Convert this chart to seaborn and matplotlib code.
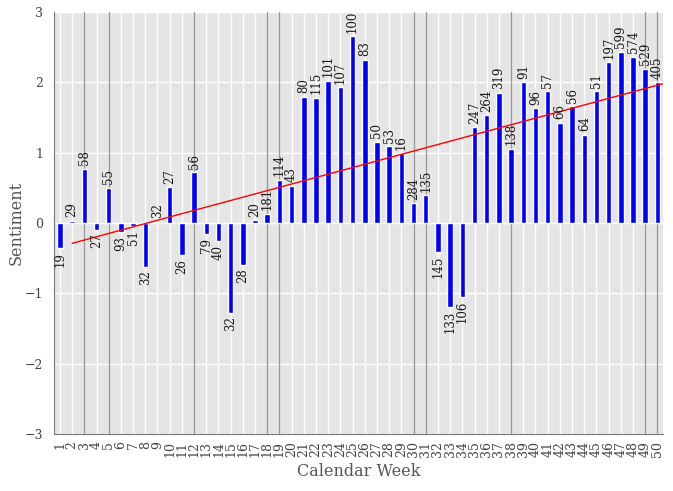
import numpy as np
import matplotlib
matplotlib.use('Agg')
import matplotlib.pyplot as plt
import pandas as pd
import seaborn as sns

weeks = list(range(1, 51))
sentiment = [-0.36, 0.03, 0.77, -0.10, 0.50, -0.13, -0.05, -0.62, 0.02, 0.51,
             -0.46, 0.72, -0.16, -0.26, -1.28, -0.60, 0.04, 0.13, 0.61, 0.53,
             1.79, 1.78, 2.02, 1.93, 2.65, 2.32, 1.15, 1.09, 0.99, 0.28,
             0.39, -0.41, -1.20, -1.05, 1.36, 1.53, 1.85, 1.05, 2.00, 1.63,
             1.87, 1.42, 1.66, 1.25, 1.87, 2.28, 2.43, 2.36, 2.19, 2.00]
counts = [19, 29, 58, 27, 55, 93, 51, 32, 32, 27,
          26, 56, 79, 40, 32, 28, 20, 181, 114, 43,
          80, 115, 101, 107, 100, 83, 50, 53, 16, 284,
          135, 145, 133, 106, 247, 264, 319, 138, 91, 96,
          57, 66, 56, 64, 51, 197, 599, 574, 529, 405]
marked_weeks = [3, 5, 12, 18, 19, 30, 31, 38, 49, 50]
trend_x = [2, 50.5]
trend_y = [-0.29, 1.98]

df = pd.DataFrame({'week': weeks, 'sentiment': sentiment, 'n': counts})

sns.set_style('darkgrid', {'axes.facecolor': '#E5E5E5', 'grid.color': 'white'})
plt.rcParams['font.family'] = ['DejaVu Serif']

fig = plt.figure(figsize=(6.73, 4.91), dpi=100)
ax = fig.add_axes([0.080, 0.116, 0.905, 0.860])

for w in marked_weeks:
    ax.axvline(w, color='#999999', lw=1.0, zorder=1)

sns.barplot(data=df, x='week', y='sentiment', native_scale=True, width=0.45,
            color='#0000FF', saturation=1, ax=ax, zorder=2)
ax.plot(trend_x, trend_y, color='red', lw=1.0, zorder=3)

for w, s, n in zip(weeks, sentiment, counts):
    if s >= 0:
        ax.text(w, s + 0.05, str(n), rotation=90, ha='center', va='bottom',
                fontsize=8.5, color='#1a1a1a')
    else:
        ax.text(w, s - 0.05, str(n), rotation=90, ha='center', va='top',
                fontsize=8.5, color='#1a1a1a')

ax.set_xlim(0.5, 50.45)
ax.set_ylim(-3, 3)
ax.set_xticks(weeks)
ax.set_xticklabels([str(w) for w in weeks], rotation=90)
ax.set_yticks([-3, -2, -1, 0, 1, 2, 3])
ax.grid(True, color='white', lw=1.0)
ax.tick_params(axis='both', colors='#555555', labelsize=9, length=4,
               labelcolor='#444444')
ax.tick_params(axis='x', pad=1)
for side in ['top', 'right']:
    ax.spines[side].set_visible(False)
ax.spines['left'].set_visible(True)
ax.spines['left'].set_color('#777777')
ax.spines['bottom'].set_visible(True)
ax.spines['bottom'].set_color('#777777')
ax.set_xlabel('Calendar Week', fontsize=11.5, color='#555555')
ax.set_ylabel('Sentiment', fontsize=11.5, color='#555555')
ax.yaxis.set_label_coords(-0.048, 0.5)

fig.savefig('out.png', dpi=100)
